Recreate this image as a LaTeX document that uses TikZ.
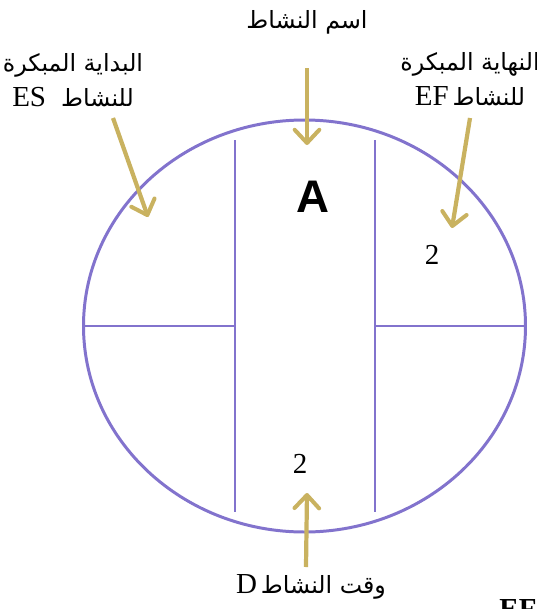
\documentclass[tikz,border=0pt]{standalone}
\usepackage{fontspec}
\setmainfont{Liberation Serif}
\newfontfamily\arabicfont[Script=Arabic]{DejaVu Sans}
\newfontfamily\headfont{Liberation Sans}
\TeXXeTstate=1
\usetikzlibrary{arrows.meta}
\definecolor{actpurple}{RGB}{130,115,205}
\definecolor{argold}{RGB}{201,178,96}
\newcommand\ar[1]{{\arabicfont\fontsize{13.5}{16}\selectfont\beginR #1\endR}}
\newcommand\lat[1]{{\rmfamily\fontsize{16.5}{20}\selectfont\beginL #1\endL}}

\begin{document}
\begin{tikzpicture}[x=0.02cm,y=-0.02cm,
lbl/.style={align=center,inner sep=0pt,font=\fontsize{16.5}{20}\selectfont},
num/.style={inner sep=0pt,font=\fontsize{16.5}{20}\selectfont},
goldarr/.style={-{Straight Barb[length=7.5pt,width=14pt,line width=2.3pt,round]},line width=2.4pt,draw=argold},
cell/.style={draw=actpurple,line width=1.1pt}]
\clip (0,0) rectangle (537,609);

% activity circle
\draw[actpurple,line width=1.7pt](304.5,326) ellipse [x radius=221,y radius=206];
\draw[cell](235,140)--(235,512);
\draw[cell](375,140)--(375,512);
\draw[cell](83.5,326)--(235,326);
\draw[cell](375,326)--(525.5,326);

\node[font=\headfont\bfseries\fontsize{26}{30}\selectfont,inner sep=0pt](actA)at(313,197){A};
\node[num](efVal)at(432,255){2};
\node[num](durVal)at(300,464){2};

% labels
\node[lbl](nameLbl)at(307,22){\ar{اسم النشاط}};
\node[lbl](esLbl)at(73,80){\ar{البداية المبكرة}\\\ar{للنشاط\ \ \lat{ES}}};
\node[lbl](efLbl)at(470,79){\ar{النهاية المبكرة}\\\ar{للنشاط\,\lat{EF}}};
\node[lbl](durLbl)at(311,587){\ar{وقت النشاط\,\lat{D}}};
\node[font=\bfseries\fontsize{16.5}{20}\selectfont,anchor=base,inner sep=0pt](efCut)at(518,618){EF};

% arrows
\coordinate(nameTail)at(307,68);  \coordinate(nameTip)at(307,145);
\coordinate(esTail)at(113,118);   \coordinate(esTip)at(148,217);
\coordinate(efTail)at(470,118);   \coordinate(efTip)at(452,228);
\coordinate(durTail)at(306,567);  \coordinate(durTip)at(307,493);
\draw[goldarr](nameTail)--(nameTip);
\draw[goldarr](esTail)--(esTip);
\draw[goldarr](efTail)--(efTip);
\draw[goldarr](durTail)--(durTip);
\end{tikzpicture}
\end{document}
